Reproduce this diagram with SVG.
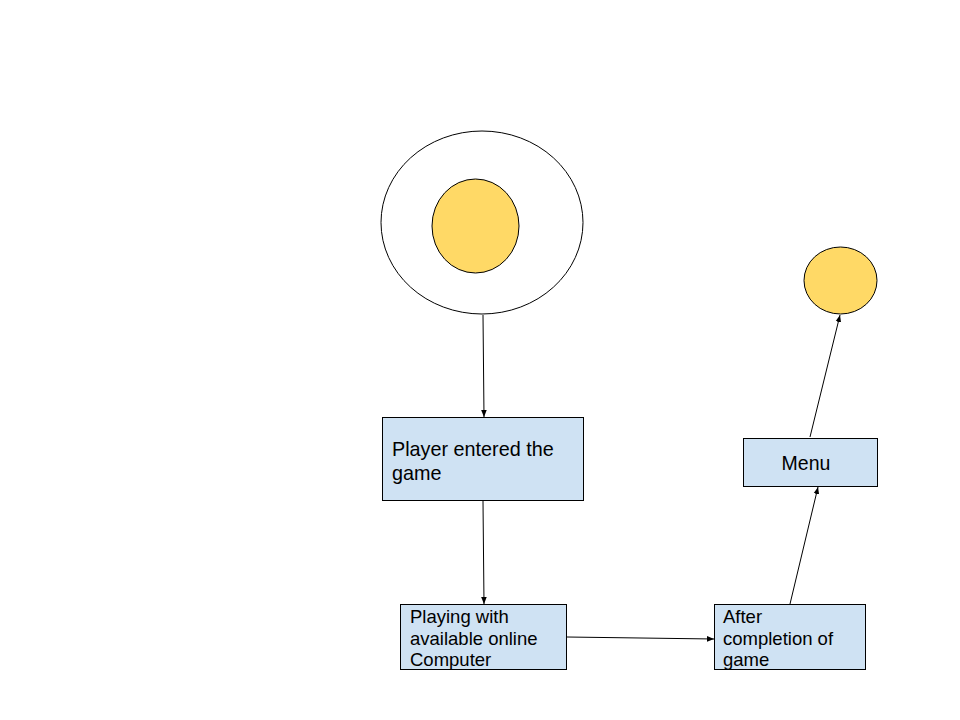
<svg xmlns="http://www.w3.org/2000/svg" width="960" height="720" viewBox="0 0 960 720">
<style>
.box{fill:#cfe2f3;stroke:#000;stroke-width:1}
.circ{fill:#ffd966;stroke:#000;stroke-width:1}
.t{font-family:"Liberation Sans",Arial,sans-serif;fill:#000}
.edge{stroke:#000;stroke-width:1;fill:none;marker-end:url(#arr)}
</style>
<defs>
<marker id="arr" viewBox="0 0 10 10" refX="10" refY="5" markerWidth="7" markerHeight="7" markerUnits="userSpaceOnUse" orient="auto">
<path d="M0,1 L10,5 L0,9 z" fill="#000"/>
</marker>
</defs>
<rect width="960" height="720" fill="#fff"/>
<g id="start">
<ellipse cx="482" cy="222.5" rx="101" ry="91.5" fill="#fff" stroke="#000"/>
<ellipse class="circ" cx="475.5" cy="226" rx="43.5" ry="47"/>
</g>
<g id="end">
<ellipse class="circ" cx="840.5" cy="280.5" rx="36.5" ry="33.5"/>
</g>
<g id="player">
<rect class="box" x="382.5" y="417.5" width="201" height="83"/>
<text class="t" font-size="19.8" x="392" y="456">Player entered the</text>
<text class="t" font-size="19.8" x="392" y="480">game</text>
</g>
<g id="playing">
<rect class="box" x="400.5" y="604.5" width="166" height="65"/>
<text class="t" font-size="18.5" x="410" y="622.5">Playing with</text>
<text class="t" font-size="18.5" x="410" y="644.5">available online</text>
<text class="t" font-size="18.5" x="410" y="666">Computer</text>
</g>
<g id="after">
<rect class="box" x="714.5" y="604.5" width="151" height="65"/>
<text class="t" font-size="18.5" x="723" y="622.5">After</text>
<text class="t" font-size="18.5" x="723" y="644.5">completion of</text>
<text class="t" font-size="18.5" x="723" y="666">game</text>
</g>
<g id="menu">
<rect class="box" x="743.5" y="438.5" width="134" height="48"/>
<text class="t" font-size="19.5" x="806" y="470" text-anchor="middle">Menu</text>
</g>
<g id="connectors">
<line class="edge" x1="483" y1="315" x2="484" y2="417"/>
<line class="edge" x1="483" y1="501" x2="484" y2="604"/>
<line class="edge" x1="567" y1="637" x2="714" y2="639"/>
<line class="edge" x1="790" y1="604" x2="818" y2="487"/>
<line class="edge" x1="810" y1="437" x2="840" y2="315"/>
</g>
</svg>
